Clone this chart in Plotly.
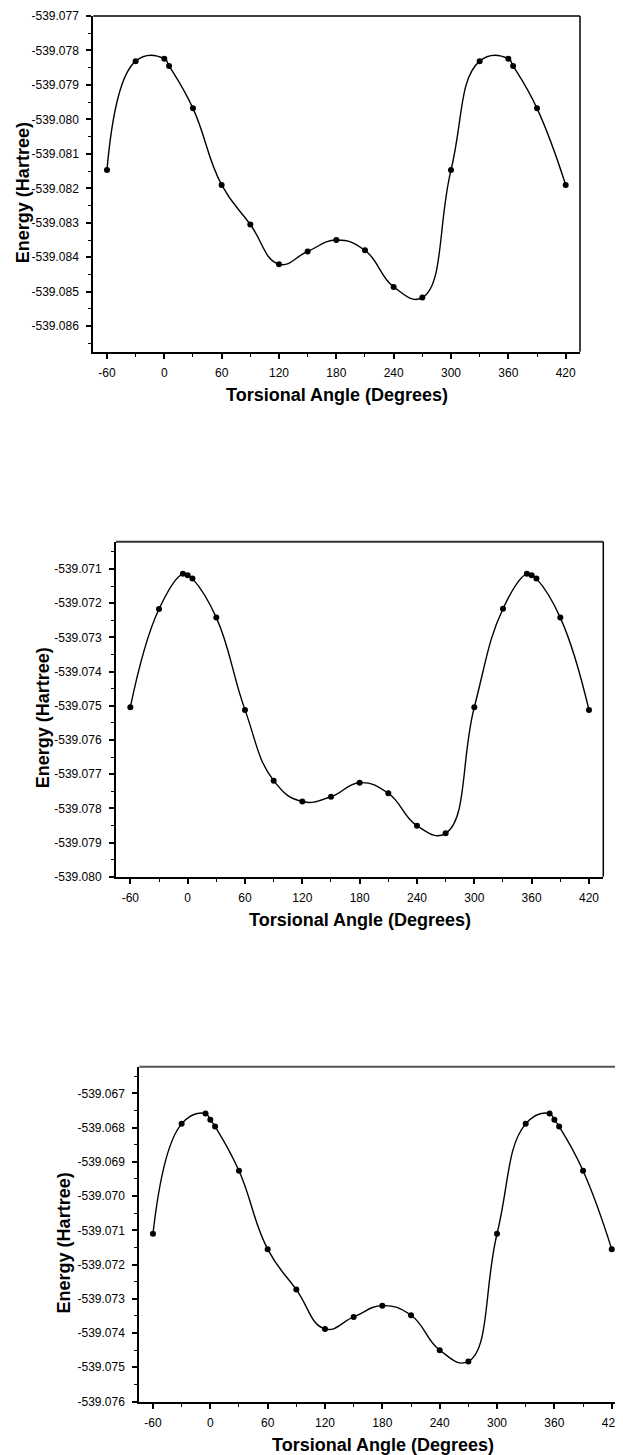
import plotly.graph_objects as go

# ---------------- data ----------------
angles_a = [-60, -30, 0, 5, 30, 60, 90, 120, 150, 180, 210, 240, 270,
            300, 330, 360, 365, 390, 420]
energy_a = [-539.08147, -539.07831, -539.07824, -539.07845, -539.07968, -539.08190,
            -539.08305, -539.08420, -539.08383, -539.08350, -539.08380, -539.08486,
            -539.08517, -539.08147, -539.07831, -539.07824, -539.07845, -539.07968,
            -539.08190]

angles_bc = [-60, -30, -5, 0, 5, 30, 60, 90, 120, 150, 180, 210, 240, 270,
             300, 330, 355, 360, 365, 390, 420]
energy_b = [-539.07504, -539.07217, -539.07114, -539.07118, -539.07128, -539.07242,
            -539.07512, -539.07719, -539.07780, -539.07766, -539.07725, -539.07756,
            -539.07851, -539.07873, -539.07504, -539.07216, -539.07114, -539.07118,
            -539.07128, -539.07242, -539.07512]
energy_c = [-539.07110, -539.06789, -539.06759, -539.06777, -539.06797, -539.06926,
            -539.07155, -539.07273, -539.07388, -539.07353, -539.07320, -539.07348,
            -539.07450, -539.07483, -539.07110, -539.06789, -539.06759, -539.06777,
            -539.06797, -539.06926, -539.07155]

x_ticks = [-60, 0, 60, 120, 180, 240, 300, 360, 420]
x_ticktext = ["-60", "0", "60", "120", "180", "240", "300", "360", "420"]

y_ticks_a = [-539.077, -539.078, -539.079, -539.080, -539.081, -539.082,
             -539.083, -539.084, -539.085, -539.086]
y_ticks_b = [-539.071, -539.072, -539.073, -539.074, -539.075, -539.076,
             -539.077, -539.078, -539.079, -539.080]
y_ticks_c = [-539.067, -539.068, -539.069, -539.070, -539.071, -539.072,
             -539.073, -539.074, -539.075, -539.076]

x_title = "Torsional Angle (Degrees)"
y_title = "Energy (Hartree)"

# ---------------- layout geometry (page pixels) ----------------
PAGE_W, PAGE_H = 623, 1455
OFF = 8                       # default body margin of the html page
W, H = PAGE_W - OFF, PAGE_H - OFF

def fx(px):                   # page x -> paper fraction
    return (px - OFF) / W

def fy(py):                   # page y -> paper fraction (from bottom)
    return 1 - (py - OFF) / H

panels = [
    dict(l=93.3, r=580.0, t=16.0, b=351.7, xr=[-74.3, 435.0],
         yr=[-539.08674, -539.0770], yt=y_ticks_a, ang=angles_a, en=energy_a,
         my=True, ytoff=70, topcol="black"),
    dict(l=116.0, r=603.3, t=541.7, b=876.7, xr=[-75.0, 435.0],
         yr=[-539.0800, -539.0702], yt=y_ticks_b, ang=angles_bc, en=energy_b,
         my=True, ytoff=73, topcol="#333333"),
    dict(l=139.3, r=623.0, t=1066.7, b=1401.5, xr=[-74.3, 431.8],
         yr=[-539.0760, -539.06622], yt=y_ticks_c, ang=angles_bc, en=energy_c,
         my=False, ytoff=75, topcol="#555555"),
]

FONT = "Liberation Sans, Arial, sans-serif"

fig = go.Figure()
layout = dict(
    template="none",
    width=W, height=H, autosize=False,
    margin=dict(l=0, r=0, t=0, b=0, pad=0),
    paper_bgcolor="white", plot_bgcolor="white",
    showlegend=False,
    font=dict(family=FONT, size=12, color="black"),
)
annotations = []

for i, p in enumerate(panels):
    n = "" if i == 0 else str(i + 1)
    xa, ya = "x" + n, "y" + n
    fig.add_trace(go.Scatter(
        x=p["ang"], y=p["en"], xaxis=xa, yaxis=ya,
        mode="lines+markers",
        line=dict(color="black", width=1.4, shape="spline", smoothing=1.3),
        marker=dict(color="black", size=6, line=dict(width=0)),
        hoverinfo="x+y", cliponaxis=False,
    ))
    xdom = [fx(p["l"]), min(1.0, fx(p["r"]))]
    ydom = [fy(p["b"]), fy(p["t"])]
    layout["xaxis" + n] = dict(
        domain=xdom, anchor=ya, automargin=False,
        range=p["xr"], showgrid=False, zeroline=False,
        showline=True, linecolor="black", linewidth=2, mirror=False,
        ticks="outside", ticklen=5, tickwidth=1.5, tickcolor="black",
        tickvals=x_ticks, ticktext=x_ticktext, ticklabelstandoff=4,
        tickfont=dict(family=FONT, size=12, color="black"),
        minor=dict(tick0=-30, dtick=60, ticks="outside", ticklen=3,
                   tickwidth=1, tickcolor="black", showgrid=False),
    )
    layout["yaxis" + n] = dict(
        domain=ydom, anchor=xa, automargin=False,
        range=p["yr"], showgrid=False, zeroline=False,
        showline=True, linecolor="black", linewidth=2, mirror=False,
        ticks="outside", ticklen=5, tickwidth=1.5, tickcolor="black",
        tickvals=p["yt"], ticktext=["%.3f" % v for v in p["yt"]],
        ticklabelstandoff=5,
        tickfont=dict(family=FONT, size=12, color="black"),
        minor=dict(tick0=p["yt"][0] - 0.0005, dtick=0.001, ticks="outside",
                   ticklen=3, tickwidth=1, tickcolor="black", showgrid=False),
    )
    # frame: top and right borders
    fig.add_shape(type="line", xref="paper", yref="paper",
                  x0=xdom[0], x1=xdom[1], y0=ydom[1], y1=ydom[1],
                  line=dict(color=p["topcol"], width=2 if i else 1.5))
    if p["my"]:
        fig.add_shape(type="line", xref="paper", yref="paper",
                      x0=xdom[1], x1=xdom[1], y0=ydom[0], y1=ydom[1],
                      line=dict(color="black", width=1.5))
    # axis titles
    xcenter = (p["l"] + (p["r"] if i < 2 else 626.0)) / 2.0
    annotations.append(dict(
        text="<b>%s</b>" % x_title, xref="paper", yref="paper",
        x=fx(xcenter), y=fy(p["b"] + 43.0),
        xanchor="center", yanchor="middle", showarrow=False,
        font=dict(family=FONT, size=18, color="black"),
    ))
    annotations.append(dict(
        text="<b>%s</b>" % y_title, xref="paper", yref="paper",
        x=fx(p["l"] - p["ytoff"]), y=fy((p["t"] + p["b"]) / 2 + 9),
        xanchor="center", yanchor="middle", showarrow=False, textangle=-90,
        font=dict(family=FONT, size=18, color="black"),
    ))

layout["annotations"] = annotations
fig.update_layout(**layout)
fig.write_html("out.html")
